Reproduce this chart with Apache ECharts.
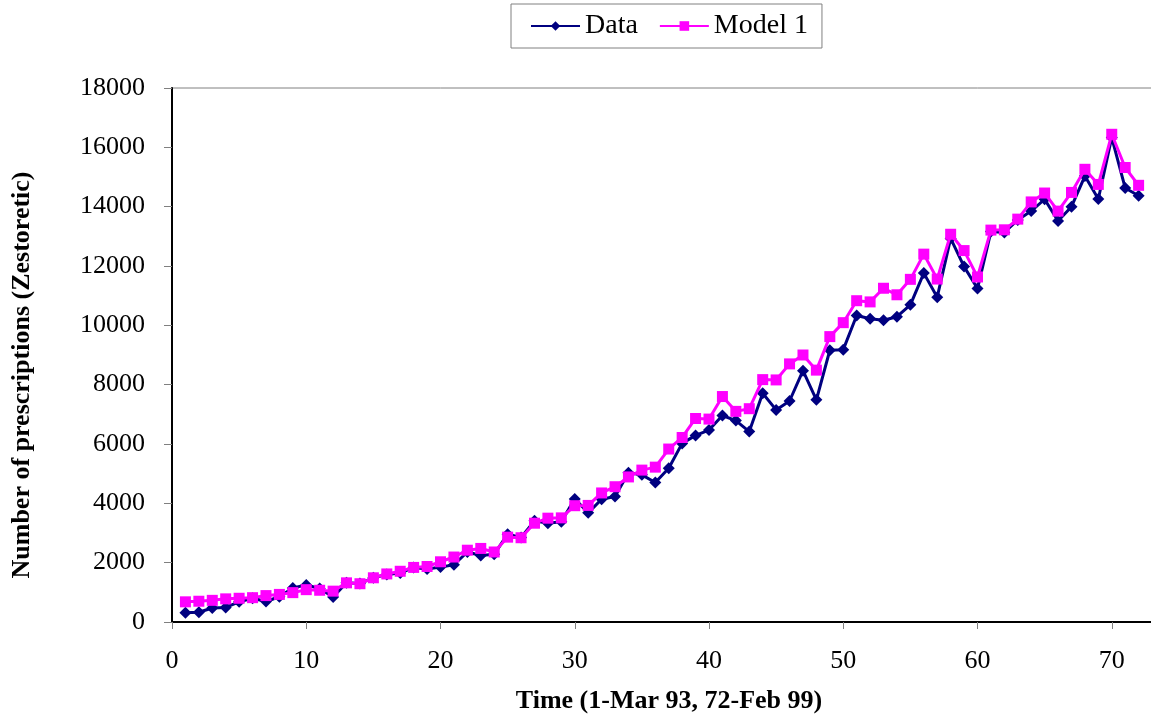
<!DOCTYPE html>
<html>
<head>
<meta charset="utf-8">
<script src="https://cdn.jsdelivr.net/npm/echarts@6/dist/echarts.min.js"></script>
<style>html,body{margin:0;padding:0;background:#fff;overflow:hidden;width:1151px;height:722px;}#c{width:1262px;height:722px;}</style>
</head>
<body>
<div id="c"></div>
<script>
var timeIdx = [];
for (var i = 1; i <= 72; i++) timeIdx.push(i);
var dataValues = [310,330,470,490,680,800,690,850,1150,1250,1130,840,1320,1300,1490,1600,1650,1840,1790,1850,
  1930,2360,2240,2280,2960,2850,3410,3330,3380,4150,3680,4140,4230,5030,4960,4700,5180,6020,6290,6470,
  6960,6790,6420,7710,7150,7450,8470,7490,9160,9180,10330,10220,10170,10290,10690,11760,10950,12930,11980,11240,
  13160,13130,13550,13850,14250,13520,14000,15030,14260,16330,14630,14370];
var modelValues = [680,700,730,780,800,820,890,930,990,1090,1070,1040,1320,1290,1490,1620,1710,1840,1870,2030,
  2190,2420,2480,2360,2860,2840,3330,3500,3510,3920,3930,4350,4560,4890,5120,5220,5830,6220,6860,6840,
  7600,7100,7190,8170,8160,8700,9000,8490,9620,10090,10830,10790,11250,11030,11550,12400,11560,13070,12520,11630,
  13210,13220,13580,14160,14460,13850,14480,15260,14750,16440,15320,14720];
var seriesNames = ['Data', 'Model 1'];
var xTitle = 'Time (1-Mar 93, 72-Feb 99)';
var yTitle = 'Number of prescriptions (Zestoretic)';

function pairs(vals){ return timeIdx.map(function(t,i){ return [t, vals[i]]; }); }

var FONT = '"Liberation Serif", "Times New Roman", serif';
var chart = echarts.init(document.getElementById('c'));
chart.setOption({
  animation: false,
  backgroundColor: '#fff',
  textStyle: { fontFamily: FONT },
  grid: { left: 172, top: 88, width: 1080, height: 534, show: true, borderColor: '#808080', borderWidth: 1, backgroundColor: 'transparent', containLabel: false },
  legend: {
    left: 511, top: 4,
    padding: [8, 14, 8, 19],
    itemGap: 21,
    itemWidth: 49, itemHeight: 12,
    borderColor: '#808080', borderWidth: 1,
    textStyle: { fontFamily: FONT, fontSize: 28, color: '#000' },
    data: seriesNames
  },
  xAxis: {
    type: 'value', min: 0, max: 80, interval: 10,
    axisLine: { lineStyle: { color: '#000', width: 2 } },
    axisTick: { show: true, inside: false, length: 7, lineStyle: { color: '#808080', width: 1 } },
    axisLabel: { fontFamily: FONT, fontSize: 26, color: '#000', margin: 26, formatter: function(v){ return String(v); } },
    splitLine: { show: false }
  },
  yAxis: {
    type: 'value', min: 0, max: 18000, interval: 2000,
    axisLine: { show: true, lineStyle: { color: '#000', width: 2 } },
    axisTick: { show: true, inside: false, length: 8, lineStyle: { color: '#808080', width: 1 } },
    axisLabel: { fontFamily: FONT, fontSize: 26, color: '#000', margin: 27, formatter: function(v){ return String(v); } },
    splitLine: { show: false }
  },
  graphic: [
    { type: 'text', x: 669, y: 701, style: { text: xTitle, font: 'bold 26px ' + FONT, fill: '#000', textAlign: 'center', textVerticalAlign: 'middle' } },
    { type: 'text', x: 22, y: 375, rotation: Math.PI/2, style: { text: yTitle, font: 'bold 26px ' + FONT, fill: '#000', textAlign: 'center', textVerticalAlign: 'middle' } }
  ],
  series: [
    {
      name: seriesNames[0], type: 'line', data: pairs(dataValues),
      symbol: 'diamond', symbolSize: 12, showAllSymbol: true,
      lineStyle: { color: '#000080', width: 3 },
      itemStyle: { color: '#000080' },
      z: 2
    },
    {
      name: seriesNames[1], type: 'line', data: pairs(modelValues),
      symbol: 'rect', symbolSize: 11, showAllSymbol: true,
      lineStyle: { color: '#FF00FF', width: 3 },
      itemStyle: { color: '#FF00FF' },
      z: 3
    }
  ]
});
</script>
</body>
</html>
